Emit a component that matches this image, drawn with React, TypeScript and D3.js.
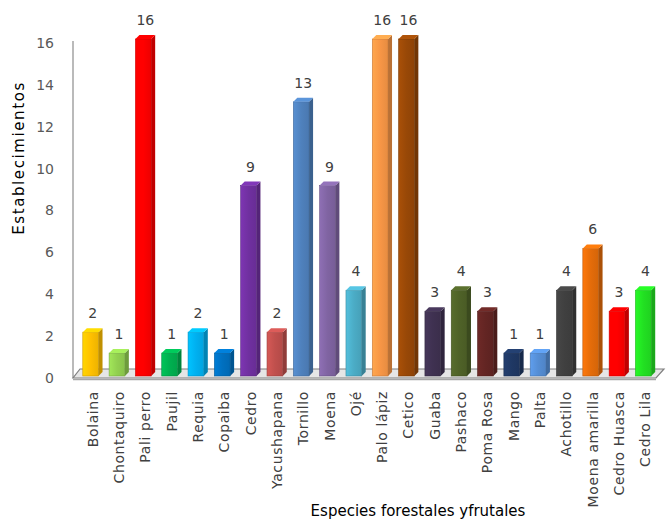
import React from "react";
import * as d3 from "d3";

const categories = [
  "Bolaina", "Chontaquiro", "Pali perro", "Paujil", "Requia", "Copaiba", "Cedro",
  "Yacushapana", "Tornillo", "Moena", "Ojé", "Palo lápiz", "Cetico", "Guaba",
  "Pashaco", "Poma Rosa", "Mango", "Palta", "Achotillo", "Moena amarilla",
  "Cedro Huasca", "Cedro Lila",
];
const values = [2, 1, 16, 1, 2, 1, 9, 2, 13, 9, 4, 16, 16, 3, 4, 3, 1, 1, 4, 6, 3, 4];
const colors = [
  "#FFC000", "#92D050", "#FF0000", "#00B050", "#00B0F0", "#0070C0", "#7030A0",
  "#C0504D", "#4F81BD", "#8064A2", "#4BACC6", "#F79646", "#984807", "#3F3151",
  "#4F6228", "#632523", "#1F3864", "#558ED5", "#404040", "#E46C0A", "#FF0000",
  "#22E022",
];
const yTicks = [0, 2, 4, 6, 8, 10, 12, 14, 16];
const yTitle = "Establecimientos";
const xTitle = "Especies forestales yfrutales";

export default function App() {
  const W = 668, H = 526;
  const y = d3.scaleLinear().domain([0, 16]).range([378, 43]);
  const x = d3.scaleBand<string>().domain(categories).range([79.5, 658.5]).paddingInner(0.25).paddingOuter(0.125);
  const bw = x.bandwidth();
  const depth = 4;
  const font = "'DejaVu Sans', 'Liberation Sans', sans-serif";

  return (
    <svg width={W} height={H} style={{ position: "absolute", left: 0, top: 0, background: "#fff" }}>
      <defs>
        {colors.map((c, i) => {
          const base = d3.color(c)!;
          return (
            <linearGradient key={i} id={`g${i}`} x1="0" x2="1" y1="0" y2="0">
              <stop offset="0" stopColor={base.brighter(0.3).formatHex()} />
              <stop offset="0.5" stopColor={base.formatHex()} />
              <stop offset="1" stopColor={base.darker(0.2).formatHex()} />
            </linearGradient>
          );
        })}
      </defs>
      <rect x={0} y={0} width={W} height={H} fill="#fff" />
      {/* vertical axis line */}
      <line x1={73} x2={73} y1={41} y2={y(0)} stroke="#8C8C8C" strokeWidth={1.2} />
      {/* floor */}
      <polygon
        points={`73,${y(0)} 656,${y(0)} 664,${y(0) - 9} 80,${y(0) - 9}`}
        fill="#E6E6E6"
        stroke="#7F7F7F"
        strokeWidth={1.2}
      />
      <line x1={73} x2={656} y1={y(0) + 1.5} y2={y(0) + 1.5} stroke="#A6A6A6" strokeWidth={1.5} />
      {/* y ticks */}
      {yTicks.map((t) => (
        <text key={t} x={54} y={y(t)} dy="0.35em" textAnchor="end" fontFamily={font} fontSize={14} fill="#595959">
          {t}
        </text>
      ))}
      {/* bars */}
      {categories.map((c, i) => {
        const v = values[i];
        const x0 = x(c)!;
        const top = y(v) - 4;
        const bottom = y(0) - 2;
        const fw = bw - depth;
        const base = d3.color(colors[i])!;
        const side = base.darker(0.8).formatHex();
        const topc = base.brighter(0.4).formatHex();
        return (
          <g key={c}>
            <rect x={x0} y={top} width={fw} height={bottom - top} fill={`url(#g${i})`} stroke={base.darker(0.6).formatHex()} strokeWidth={0.6} />
            <polygon
              points={`${x0 + fw},${top} ${x0 + bw},${top - depth} ${x0 + bw},${bottom - depth} ${x0 + fw},${bottom}`}
              fill={side}
            />
            <polygon
              points={`${x0},${top} ${x0 + depth},${top - depth} ${x0 + bw},${top - depth} ${x0 + fw},${top}`}
              fill={topc}
            />
            <text x={x0 + bw / 2} y={y(v) - 18} textAnchor="middle" fontFamily={font} fontSize={14} fill="#404040">
              {v}
            </text>
          </g>
        );
      })}
      {/* x labels */}
      {categories.map((c) => {
        const cx = x(c)! + bw / 2;
        return (
          <text
            key={c}
            transform={`translate(${cx + 5},391) rotate(-90)`}
            textAnchor="end"
            fontFamily={font}
            fontSize={14}
            letterSpacing={0.6}
            fill="#404040"
          >
            {c}
          </text>
        );
      })}
      {/* axis titles */}
      <text
        transform="translate(24,158) rotate(-90)"
        textAnchor="middle"
        fontFamily={font}
        fontSize={15}
        letterSpacing={1.6}
        fill="#000"
      >
        {yTitle}
      </text>
      <text x={418} y={516} textAnchor="middle" fontFamily={font} fontSize={15} fill="#000">
        {xTitle}
      </text>
    </svg>
  );
}
